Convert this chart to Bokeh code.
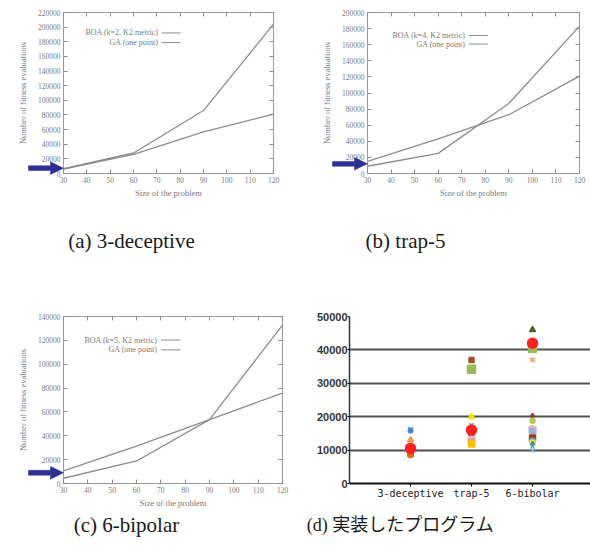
from bokeh.plotting import figure
from bokeh.layouts import column, row
from bokeh.models import Range1d, LinearAxis, FixedTicker, BasicTickFormatter
from bokeh.core.properties import value
from bokeh.embed import file_html
from bokeh.resources import INLINE

# ---------------- data ----------------
sizes = [30, 60, 90, 120]
size_ticks = [30, 40, 50, 60, 70, 80, 90, 100, 110, 120]

dec3_boa = [6000, 26000, 57000, 81000]
dec3_ga = [6500, 28000, 86000, 204000]
trap5_boa = [15000, 43000, 73000, 121000]
trap5_ga = [9000, 25000, 87000, 183000]
bip6_boa = [10600, 31400, 53600, 75800]
bip6_ga = [4400, 18900, 53600, 132800]

legend_a = ["BOA (k=2, K2 metric)", "GA (one point)"]
legend_b = ["BOA (k=4, K2 metric)", "GA (one point)"]
legend_c = ["BOA (k=5, K2 metric)", "GA (one point)"]

# panel (d): implemented program results
d_categories = ["3-deceptive", "trap-5", "6-bibolar"]
d_cat = [1, 1, 1, 1, 1, 1,
         2, 2, 2, 2, 2, 2, 2, 2, 2, 2, 2,
         3, 3, 3, 3, 3, 3, 3, 3, 3, 3, 3, 3, 3, 3,
         1, 2, 3]
d_val = [16200, 15800, 13000, 9300, 8800, 8500,
         37000, 34200, 20000, 17500, 15000, 14500, 13800, 13500, 13000, 12500, 11800,
         46000, 40500, 37000, 20200, 18800, 16500, 16000, 15700, 13600, 12800, 12200, 11800, 11200, 10000,
         10500, 16000, 42000]
d_marker = ["x", "asterisk", "triangle", "square", "square", "circle",
            "square", "square", "triangle", "x", "x", "circle", "diamond", "square", "square", "square", "square",
            "triangle", "square", "x", "diamond", "circle", "asterisk", "square", "square", "square", "circle", "square", "diamond", "x", "x",
            "circle", "circle", "circle"]
d_color = ["#00b0f0", "#4f81bd", "#f79646", "#7f7f7f", "#984807", "#e46c0a",
           "#a0522d", "#9bbb59", "#f5e400", "#8db4e2", "#31859c", "#1f497d", "#31849b", "#7f8fa6", "#e6b9b8", "#c8a2a0", "#ffc000",
           "#4f6228", "#9bbb59", "#f79646", "#953735", "#b5c94f", "#1f497d", "#e6b9b8", "#8db4e2", "#984807", "#4bacc6", "#e5d85c", "#31859c", "#4bacc6", "#8db4e2",
           "#ff2020", "#ff2020", "#ff2020"]
d_size = [7, 6, 6, 5, 5, 5,
          5, 8, 6, 6, 5, 5, 5, 5, 7, 5, 6,
          6, 8, 6, 5, 5, 6, 7, 5, 6, 5, 5, 5, 5, 6,
          10, 10, 10]

captions = ["(a) 3-deceptive", "(b) trap-5", "(c) 6-bipolar", "(d) 実装したプログラム"]

GRAY = "#8c8c8c"
BLUE = "#2e3192"
SERIF = "Liberation Serif"


def gp_panel(w, h, bl, br, bt, bb, ymax, ys, labels, arrow_y, leg_fx, leg_fy):
    p = figure(width=w, height=h, output_backend="svg", toolbar_location=None,
               x_range=Range1d(30, 120), y_range=Range1d(0, ymax),
               min_border_left=bl, min_border_right=br, min_border_top=bt,
               min_border_bottom=bb, x_axis_label="Size of the problem",
               y_axis_label="Number of fitness evaluations")
    p.background_fill_color = "white"
    p.border_fill_color = "white"
    p.outline_line_color = "#9a9a9a"
    p.outline_line_width = 1
    p.xgrid.visible = False
    p.ygrid.visible = False
    p.xaxis.ticker = FixedTicker(ticks=size_ticks)
    p.yaxis.ticker = FixedTicker(ticks=list(range(0, ymax + 1, 20000)))
    p.yaxis.formatter = BasicTickFormatter(use_scientific=False)
    for ax in (p.xaxis[0], p.yaxis[0]):
        ax.axis_line_color = None
        ax.major_tick_in = 4
        ax.major_tick_out = 0
        ax.major_tick_line_color = GRAY
        ax.minor_tick_line_color = None
        ax.major_label_text_font = SERIF
        ax.major_label_text_font_size = "7.5px"
        ax.major_label_text_color = "#7a7a7a"
        ax.major_label_standoff = 3
        ax.axis_label_text_font = SERIF
        ax.axis_label_text_font_size = "8.5px"
        ax.axis_label_text_font_style = "normal"
        ax.axis_label_text_color = "#7a7a7a"
    p.xaxis.axis_label_standoff = 2
    p.yaxis.axis_label_standoff = 7
    # mirrored ticks (top / right), no labels
    top = LinearAxis(ticker=FixedTicker(ticks=size_ticks))
    right = LinearAxis(ticker=FixedTicker(ticks=list(range(0, ymax + 1, 20000))))
    for ax in (top, right):
        ax.axis_line_color = None
        ax.major_tick_in = 4
        ax.major_tick_out = 0
        ax.major_tick_line_color = GRAY
        ax.minor_tick_line_color = None
        ax.major_label_text_color = None
        ax.major_label_text_font_size = "1px"
        ax.major_label_standoff = 0
    p.add_layout(top, "above")
    p.add_layout(right, "right")

    for yv in ys:
        p.line(sizes, yv, line_color=GRAY, line_width=1.3)

    # gnuplot-style key: right-aligned text followed by a line sample
    lx = 30 + leg_fx * 90
    for i, lab in enumerate(labels):
        ly = leg_fy[i] * ymax
        p.text(x=[lx], y=[ly], text=[lab], text_align="right", text_baseline="middle",
               text_font=value(SERIF), text_font_size="8px", text_color="#7a7a7a")
        p.segment(x0=[lx + 1.5], y0=[ly], x1=[lx + 9.5], y1=[ly], line_color=GRAY, line_width=1)

    # blue arrow pointing at the start of the curves (shape given in pixels),
    # drawn on the overlay level so it may sit in the left margin
    fw = w - bl - br
    fh = h - bt - bb
    ux = 90.0 / fw        # data units per pixel (x)
    uy = ymax / fh        # data units per pixel (y)
    tip = sizes[0]
    shape = [(0, 0), (-13, 6.5), (-13, 2.5), (-35, 2.5), (-35, -2.5), (-13, -2.5), (-13, -6.5)]
    p.patch(x=[tip + sx * ux for sx, sy in shape],
            y=[arrow_y + sy * uy for sx, sy in shape],
            fill_color=BLUE, line_color=BLUE, line_width=0.5, level="overlay")
    return p


pa = gp_panel(295, 205, 63, 22, 12, 27, 220000, [dec3_boa, dec3_ga], legend_a, 7300,
              0.452, [0.873, 0.813])
pb = gp_panel(295, 205, 72, 11, 5, 32, 200000, [trap5_boa, trap5_ga], legend_b, 12000,
              0.462, [0.857, 0.804])
pc = gp_panel(295, 241, 63, 13, 43, 28, 140000, [bip6_boa, bip6_ga], legend_c, 9000,
              0.429, [0.859, 0.80])

# ---------------- panel (d) ----------------
pd = figure(width=295, height=241, output_backend="svg", toolbar_location=None,
            x_range=Range1d(0, 3.95), y_range=Range1d(0, 50000),
            min_border_left=54, min_border_right=0, min_border_top=46, min_border_bottom=17)
pd.outline_line_color = None
pd.background_fill_color = "white"
pd.xgrid.visible = False
pd.ygrid.grid_line_color = "#505050"
pd.ygrid.grid_line_width = 2
pd.yaxis.ticker = FixedTicker(ticks=[0, 10000, 20000, 30000, 40000, 50000])
pd.yaxis.formatter = BasicTickFormatter(use_scientific=False)
pd.yaxis.major_label_text_font = "Liberation Sans"
pd.yaxis.major_label_text_font_style = "bold"
pd.yaxis.major_label_text_font_size = "11px"
pd.yaxis.major_label_text_color = "#333333"
pd.yaxis.major_label_standoff = 0
pd.yaxis.major_tick_out = 2
pd.yaxis.major_tick_in = 0
pd.yaxis.minor_tick_line_color = None
pd.yaxis.axis_line_color = "#333333"
pd.yaxis.axis_line_width = 1.5
pd.xaxis.ticker = FixedTicker(ticks=[1, 2, 3])
pd.xaxis.major_label_overrides = {i + 1: c for i, c in enumerate(d_categories)}
pd.xaxis.major_label_text_font = "DejaVu Sans Mono"
pd.xaxis.major_label_text_font_size = "10px"
pd.xaxis.major_label_text_color = "#222222"
pd.xaxis.major_label_standoff = 1
pd.xaxis.major_tick_out = 3
pd.xaxis.major_tick_in = 0
pd.xaxis.minor_tick_line_color = None
pd.xaxis.axis_line_color = "#111111"
pd.xaxis.axis_line_width = 2
pd.scatter(x=d_cat, y=d_val, marker=d_marker, size=d_size, fill_color=d_color,
           line_color=d_color, line_width=1.5)


# ---------------- captions ----------------
def cap_fig(w, h, cx, cy_from_top, txt, font, fsize):
    c = figure(width=w, height=h, output_backend="svg", toolbar_location=None,
               x_range=Range1d(0, w), y_range=Range1d(0, h), min_border=0,
               x_axis_type=None, y_axis_type=None)
    c.outline_line_color = None
    c.text(x=[cx], y=[h - cy_from_top], text=[txt], text_align="center",
           text_baseline="middle", text_font=value(font), text_font_size=fsize,
           text_color="#1a1a1a")
    return c


ca = cap_fig(295, 65, 131, 35, captions[0], SERIF, "21px")
cb = cap_fig(295, 65, 110, 35, captions[1], SERIF, "21px")
cc = cap_fig(295, 47, 126, 13, captions[2], SERIF, "21px")
cd = cap_fig(295, 47, 105, 13, captions[3], "Liberation Serif, Noto Sans CJK JP", "18px")

layout = column(row(pa, pb), row(ca, cb), row(pc, pd), row(cc, cd))

open("out.html", "w").write(file_html(layout, INLINE))
